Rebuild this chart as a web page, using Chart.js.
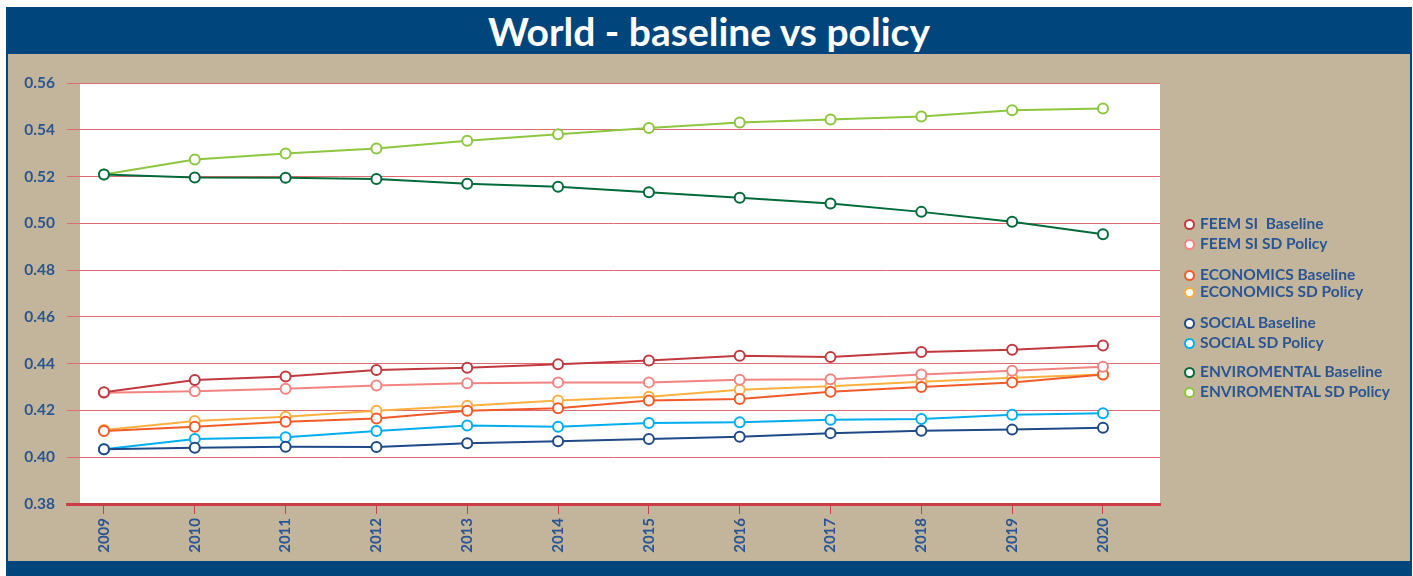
<!DOCTYPE html>
<html>
<head>
<meta charset="utf-8">
<script src="https://cdn.jsdelivr.net/npm/chart.js@4"></script>
<style>
	html, body { margin: 0; padding: 0; background: #fff; }
	#frame {
		position: absolute; left: 6px; top: 7px; width: 1402px; height: 569px;
		background: #c2b59b; border-left: 2px solid #00457c; border-right: 2px solid #00457c;
	}
	#title {
		position: absolute; left: 0; top: 0; width: 100%; height: 47px;
		background: #00457c; color: #fff; text-align: center;
		font: 700 39px Lato, sans-serif; line-height: 49px;
	}
	#footer { position: absolute; left: 0; bottom: 0; width: 100%; height: 15px; background: #00457c; }
	#chart { position: absolute; left: 0; top: 0; }
	#legend { position: absolute; left: 1184px; top: 0; font: 700 15.5px Lato, sans-serif; color: #2b5592; }
	.item { position: absolute; white-space: nowrap; height: 18px; line-height: 18px; }
	.dot {
		display: inline-block; width: 7px; height: 7px; border-radius: 50%;
		border: 2px solid; background: #fff; margin-right: 5px; vertical-align: -1px;
	}
</style>
</head>
<body>
<div id="frame">
	<div id="title">World - baseline vs policy</div>
	<div id="footer"></div>
</div>
<canvas id="chart" width="1413" height="576"></canvas>
<div id="legend"></div>
<script>
(function() {
	'use strict';

	var years = [2009, 2010, 2011, 2012, 2013, 2014, 2015, 2016, 2017, 2018, 2019, 2020];
	var yTicks = [0.38, 0.40, 0.42, 0.44, 0.46, 0.48, 0.50, 0.52, 0.54, 0.56];

	var feemBaseline   = [0.4278, 0.4330, 0.4345, 0.4373, 0.4383, 0.4397, 0.4414, 0.4434, 0.4428, 0.4450, 0.4460, 0.4478];
	var feemPolicy     = [0.4276, 0.4282, 0.4293, 0.4307, 0.4316, 0.4320, 0.4320, 0.4331, 0.4333, 0.4354, 0.4370, 0.4387];
	var econBaseline   = [0.4112, 0.4130, 0.4152, 0.4166, 0.4199, 0.4209, 0.4242, 0.4249, 0.4280, 0.4300, 0.4320, 0.4354];
	var econPolicy     = [0.4116, 0.4155, 0.4173, 0.4199, 0.4220, 0.4243, 0.4259, 0.4289, 0.4303, 0.4323, 0.4340, 0.4354];
	var socialBaseline = [0.4034, 0.4041, 0.4045, 0.4044, 0.4060, 0.4068, 0.4078, 0.4088, 0.4103, 0.4113, 0.4118, 0.4126];
	var socialPolicy   = [0.4034, 0.4078, 0.4085, 0.4112, 0.4136, 0.4130, 0.4146, 0.4149, 0.4160, 0.4163, 0.4182, 0.4188];
	var envBaseline    = [0.5209, 0.5196, 0.5195, 0.5190, 0.5169, 0.5156, 0.5133, 0.5109, 0.5085, 0.5049, 0.5007, 0.4953];
	var envPolicy      = [0.5209, 0.5273, 0.5299, 0.5320, 0.5353, 0.5381, 0.5408, 0.5431, 0.5444, 0.5457, 0.5483, 0.5491];

	var seriesNames = [
		'FEEM SI\u00a0 Baseline', 'FEEM SI SD Policy',
		'ECONOMICS Baseline', 'ECONOMICS SD Policy',
		'SOCIAL Baseline', 'SOCIAL SD Policy',
		'ENVIROMENTAL Baseline', 'ENVIROMENTAL SD Policy'
	];
	var seriesColors = ['#c1393f', '#f28482', '#f15a29', '#fbb040', '#1f4a87', '#00aeef', '#006b3a', '#8dc63f'];
	var seriesValues = [feemBaseline, feemPolicy, econBaseline, econPolicy, socialBaseline, socialPolicy, envBaseline, envPolicy];
	var legendTops = [214, 234, 265, 282, 313, 333, 362, 382];

	var textBlue = '#2b5592';

	// White plot background, inset a bit from the grid start
	var plotBg = {
		id: 'plotBg',
		beforeDraw: function(chart) {
			var a = chart.chartArea, c = chart.ctx;
			c.save();
			c.fillStyle = '#ffffff';
			c.fillRect(a.left + 13, a.top + 1, a.right - a.left - 13, a.bottom - a.top - 1);
			c.restore();
		}
	};

	var datasets = seriesValues.map(function(vals, i) {
		return {
			label: seriesNames[i],
			data: vals.map(function(v, j) { return { x: years[j], y: v }; }),
			borderColor: seriesColors[i],
			backgroundColor: '#ffffff',
			pointBackgroundColor: '#ffffff',
			pointBorderColor: seriesColors[i],
			borderWidth: 2,
			pointRadius: 5,
			pointBorderWidth: 2,
			tension: 0,
			fill: false,
			order: i
		};
	});

	new Chart(document.getElementById('chart'), {
		type: 'line',
		data: { datasets: datasets },
		plugins: [plotBg],
		options: {
			responsive: false,
			animation: false,
			layout: { padding: { top: 83, right: 253, left: 0, bottom: 0 } },
			plugins: { legend: { display: false }, tooltip: { enabled: false } },
			scales: {
				x: {
					type: 'linear',
					min: 2008.593,
					max: 2020.628,
					afterFit: function(s) { s.height = 72; },
					afterBuildTicks: function(s) {
						s.ticks = years.map(function(y) { return { value: y }; });
					},
					border: { display: true, color: '#cc3d48', width: 3 },
					grid: { drawOnChartArea: false, color: '#cc3d48', tickLength: 10, lineWidth: 1 },
					ticks: {
						autoSkip: false,
						maxRotation: 90,
						minRotation: 90,
						padding: 4,
						color: textBlue,
						font: { family: 'Lato', size: 15, weight: '700' },
						callback: function(v) { return String(v); }
					}
				},
				y: {
					min: 0.38,
					max: 0.56,
					afterFit: function(s) { s.width = 67; },
					afterBuildTicks: function(s) {
						s.ticks = yTicks.map(function(v) { return { value: v }; });
					},
					border: { display: false },
					grid: { color: '#dc6b72', lineWidth: 1, drawTicks: false },
					ticks: {
						padding: 12,
						color: textBlue,
						font: { family: 'Lato', size: 15.5, weight: '700' },
						callback: function(v) { return v.toFixed(2); }
					}
				}
			}
		}
	});

	// Grouped legend on the right
	var legend = document.getElementById('legend');
	seriesNames.forEach(function(name, i) {
		var item = document.createElement('div');
		item.className = 'item';
		item.style.top = legendTops[i] + 'px';
		var dot = document.createElement('span');
		dot.className = 'dot';
		dot.style.borderColor = seriesColors[i];
		item.appendChild(dot);
		item.appendChild(document.createTextNode(name));
		legend.appendChild(item);
	});
})();
</script>
</body>
</html>
